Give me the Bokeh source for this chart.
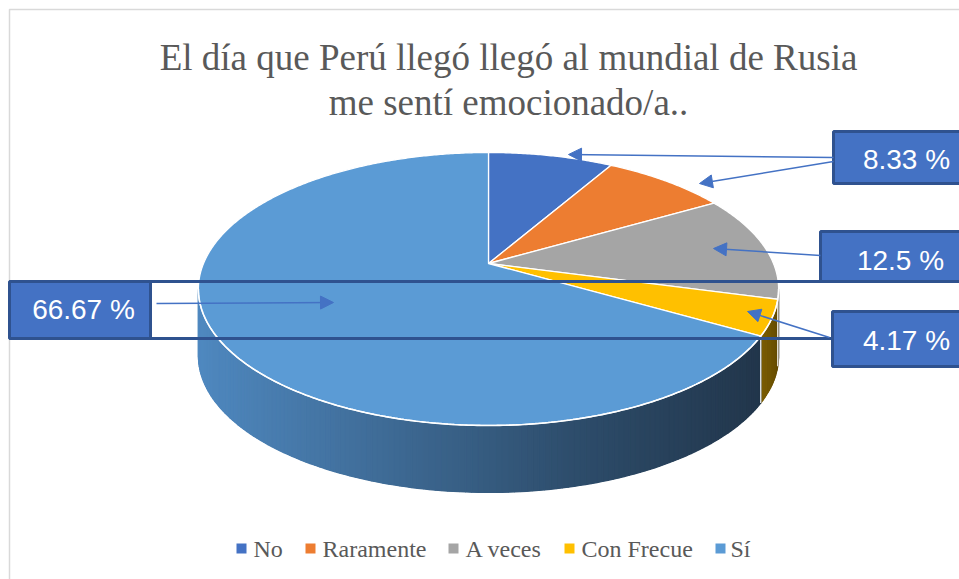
import numpy as np
from bokeh.plotting import figure
from bokeh.models import Range1d, Arrow, NormalHead
from bokeh.core.properties import value
from bokeh.embed import file_html
from bokeh.resources import INLINE

# ---- data ----
categories = ["No", "Raramente", "A veces", "Con Frecue", "Sí"]
values = [8.33, 8.33, 12.5, 4.17, 66.67]
colors = ["#4472C4", "#ED7D31", "#A5A5A5", "#FFC000", "#5B9BD5"]
title_lines = ["El día que Perú llegó llegó al mundial de Rusia", "me sentí emocionado/a.."]

# ---- geometry of the 3D pie (perspective ellipse) ----
CX, CY = 488.0, 263.0
A, B, K = 285.0, 131.7, 0.1868
DEPTH = 67.0

W, H = 959, 579
X0, Y0 = 0, 0


def proj(theta):
    t = np.radians(theta)
    u, v = np.sin(t), np.cos(t)
    d = 1 + K * v
    return CX + A * u / d, CY - B * v / d


total = float(sum(values))
bounds = np.concatenate([[0.0], np.cumsum(values) / total * 360.0])

p = figure(width=W, height=H, x_range=Range1d(X0, X0 + W), y_range=Range1d(Y0 + H, Y0),
           output_backend="svg", toolbar_location=None, min_border=0,
           x_axis_type=None, y_axis_type=None)
p.grid.visible = False
p.outline_line_color = None
p.background_fill_color = "white"
p.border_fill_color = "white"

# chart border (left / top visible)
p.line([9, 9, 980], [600, 9, 9], line_color="#D9D9D9", line_width=1.5)


def lerp_color(c1, c2, t):
    t = min(max(t, 0.0), 1.0)
    a = [int(c1[i:i + 2], 16) for i in (1, 3, 5)]
    b = [int(c2[i:i + 2], 16) for i in (1, 3, 5)]
    return "#%02x%02x%02x" % tuple(int(round(a[j] + (b[j] - a[j]) * t)) for j in range(3))


# ---- sides ----
th1 = np.degrees(np.arccos(-K))
th2 = 360.0 - th1

full = np.linspace(th1, th2, 400)
fx, fy = proj(full)
p.patch(list(fx) + list(fx[::-1]), list(fy) + list((fy + DEPTH)[::-1]),
        fill_color="#2E4F6E", line_color=None)

ths = np.unique(np.concatenate([np.arange(th1, th2, 1.0), [th2], bounds[(bounds > th1) & (bounds < th2)]]))
sx, sy, sc = [], [], []
for a0, a1 in zip(ths[:-1], ths[1:]):
    mid = 0.5 * (a0 + a1)
    idx = int(np.searchsorted(bounds, mid) - 1)
    x0, y0 = proj(a0)
    x1, y1 = proj(a1)
    xm = 0.5 * (x0 + x1)
    if idx == 4:
        if xm > 580:
            c = lerp_color("#22364B", "#2D4C6A", (760 - xm) / 180)
        else:
            c = lerp_color("#2D4C6A", "#4F88BF", (580 - xm) / (580 - 200))
    elif idx == 3:
        c = lerp_color("#5E4700", "#7A5C00", (a1 - bounds[3]) / (bounds[4] - bounds[3]))
    else:
        c = "#5F5F5F"
    sx.append([x0, x1, x1, x0])
    sy.append([y0, y1, y1 + DEPTH, y0 + DEPTH])
    sc.append(c)
p.patches(sx, sy, fill_color=sc, line_color=sc, line_width=1.2)

for b in bounds[1:-1]:
    if th1 < b < th2:
        bx, by = proj(b)
        p.line([bx, bx], [by, by + DEPTH], line_color="white", line_width=1.2)

# ---- top faces ----
tx, ty = [], []
for i in range(len(values)):
    arc = np.linspace(bounds[i], bounds[i + 1], max(int((bounds[i + 1] - bounds[i]) * 2), 4))
    xs, ys = proj(arc)
    tx.append([CX] + list(xs))
    ty.append([CY] + list(ys))
p.patches(tx, ty, fill_color=colors, line_color="white", line_width=1.3)

rim = np.linspace(th1, th2, 300)
rx, ry = proj(rim)
p.line(list(rx), list(ry), line_color="white", line_width=1.6)

# ---- title ----
p.text(x=[508, 508], y=[57, 102], text=title_lines, text_font=value("Liberation Serif"),
       text_font_size="37px", text_color="#595959", text_align="center",
       text_baseline="alphabetic")

# ---- data label frames ----
frame_col = "#2F528F"
box_col = "#4472C4"
p.segment(x0=[9, 9], y0=[281, 338], x1=[990, 990], y1=[281, 338], line_color=frame_col, line_width=3)
labels = ["%g %%" % values[0], "%g %%" % values[2], "%g %%" % values[3], "%g %%" % values[4]]
bl = [833, 820, 832, 9]
br = [990, 990, 990, 150]
bt = [131, 231, 311, 281]
bb = [183, 281, 366, 338]
p.quad(left=bl, right=br, top=bt, bottom=bb, fill_color=box_col, line_color=frame_col, line_width=3)
p.text(x=[906, 900, 906, 83], y=[159, 260, 340, 309], text=labels,
       text_font=value("Liberation Sans"), text_font_size="28px", text_color="white",
       text_align="center", text_baseline="middle")

# ---- leader arrows ----
leaders = [((833, 157), (568, 154)), ((833, 161), (699, 183)), ((820, 255), (713, 248)),
           ((829, 337), (747, 311)), ((156, 303), (333, 302))]
for (xs0, ys0), (xe, ye) in leaders:
    p.add_layout(Arrow(x_start=xs0, y_start=ys0, x_end=xe, y_end=ye, line_color=box_col,
                       line_width=1.5,
                       end=NormalHead(size=13, fill_color=box_col, line_color=box_col)))

# ---- legend ----
leg_sq = [241, 310, 453, 569, 720]
leg_tx = [253, 322, 465, 581, 730]
p.rect(x=leg_sq, y=[548] * 5, width=10, height=10, fill_color=colors, line_color=None)
p.text(x=leg_tx, y=[548] * 5, text=categories, text_font=value("Liberation Serif"),
       text_font_size="24px", text_color="#595959", text_align="left", text_baseline="middle")

open("out.html", "w").write(file_html(p, INLINE))
